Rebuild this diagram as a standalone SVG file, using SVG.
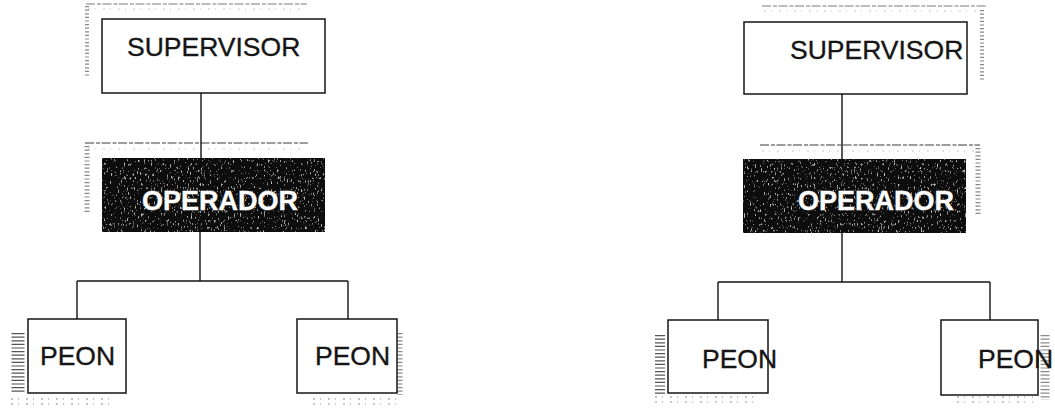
<svg xmlns="http://www.w3.org/2000/svg" width="1055" height="408" viewBox="0 0 1055 408">
  <style>
    .box { fill: #ffffff; stroke: #151515; stroke-width: 1.5; }
    .dark { fill: #111111; stroke: #0d0d0d; stroke-width: 1.5; filter: url(#grain); }
    .lbl { font-family: "Liberation Sans", Arial, sans-serif; font-size: 26.5px; fill: #151515; stroke: #151515; stroke-width: 0.35; }
    .lbl-w { font-family: "Liberation Sans", Arial, sans-serif; font-size: 27px; font-weight: bold; fill: #ffffff; stroke: #8a8a8a; stroke-width: 0.8; paint-order: stroke; }
    .wire { fill: none; stroke: #151515; stroke-width: 1.4; }
    .edge { fill: none; stroke: #7a7a7a; stroke-width: 1.2; stroke-dasharray: 9 2 4 1.5; }
    .edge2 { fill: none; stroke: #c4c4c4; stroke-width: 1; stroke-dasharray: 2 5 1 7; }
    .ticks { fill: none; stroke: #8a8a8a; stroke-dasharray: 1.2 2.4; }
  </style>
  <defs>
    <!-- speckled print texture for the dark boxes -->
    <filter id="grain" x="0" y="0" width="1" height="1">
      <feTurbulence type="fractalNoise" baseFrequency="0.7 0.3" numOctaves="2" seed="7" result="n"/>
      <feColorMatrix in="n" type="matrix" values="0 0 0 0 0.55  0 0 0 0 0.55  0 0 0 0 0.55  6 0 0 0 -3.8" result="dots"/>
      <feComposite in="dots" in2="SourceGraphic" operator="in" result="specks"/>
      <feMerge>
        <feMergeNode in="SourceGraphic"/>
        <feMergeNode in="specks"/>
      </feMerge>
    </filter>
  </defs>

  <!-- offset print frames behind the boxes -->
  <g id="frames">
    <!-- left chart -->
    <line class="edge" x1="86" y1="4" x2="307" y2="4"/>
    <line class="edge2" x1="88" y1="9" x2="300" y2="9"/>
    <line class="ticks" x1="87" y1="6" x2="87" y2="76" stroke-width="4"/>
    <line class="edge" x1="85" y1="143" x2="308" y2="143" style="stroke:#3a3a3a"/>
    <line class="edge2" x1="88" y1="149" x2="300" y2="149"/>
    <line class="ticks" x1="87" y1="146" x2="87" y2="214" stroke-width="5"/>
    <line class="ticks" x1="18" y1="333" x2="18" y2="393" stroke-width="13" style="stroke:#555"/>
    <line class="edge2" x1="11" y1="399" x2="110" y2="399" style="stroke:#888"/>
    <line class="edge2" x1="11" y1="404" x2="110" y2="404" style="stroke:#888"/>
    <line class="ticks" x1="400" y1="333" x2="400" y2="395" stroke-width="5"/>
    <line class="edge2" x1="313" y1="399" x2="397" y2="399" style="stroke:#888"/>
    <line class="edge2" x1="313" y1="404" x2="397" y2="404" style="stroke:#999"/>
    <!-- right chart -->
    <line class="edge" x1="762" y1="6" x2="987" y2="6"/>
    <line class="edge2" x1="764" y1="11" x2="980" y2="11"/>
    <line class="ticks" x1="982" y1="10" x2="982" y2="80" stroke-width="4"/>
    <line class="edge" x1="760" y1="145" x2="980" y2="145" style="stroke:#3a3a3a"/>
    <line class="edge2" x1="762" y1="151" x2="975" y2="151"/>
    <line class="ticks" x1="978" y1="148" x2="978" y2="215" stroke-width="5"/>
    <line class="ticks" x1="660" y1="335" x2="660" y2="395" stroke-width="10" style="stroke:#555"/>
    <line class="edge2" x1="655" y1="397" x2="753" y2="397" style="stroke:#888"/>
    <line class="edge2" x1="655" y1="402" x2="753" y2="402" style="stroke:#999"/>
    <line class="ticks" x1="1045" y1="335" x2="1045" y2="400" stroke-width="9"/>
    <line class="edge2" x1="957" y1="397" x2="1033" y2="397" style="stroke:#888"/>
    <line class="edge2" x1="957" y1="402" x2="1033" y2="402" style="stroke:#999"/>
  </g>

  <g id="connectors">
    <path class="wire" d="M201 93 V158 M200 232 V281 M77 281 H348 M77 281 V319 M348 281 V319"/>
    <path class="wire" d="M842 94 V159 M842 233 V282 M718 282 H990 M718 282 V320 M990 282 V320"/>
  </g>

  <!-- left chart -->
  <g id="supervisor-1">
    <rect class="box" x="102" y="19" width="223" height="74"/>
    <text class="lbl" x="127" y="56">SUPERVISOR</text>
  </g>
  <g id="operador-1">
    <rect class="dark" x="102" y="158" width="223" height="74"/>
    <text class="lbl-w" x="142" y="210">OPERADOR</text>
  </g>
  <g id="peon-1a">
    <rect class="box" x="28" y="319" width="98" height="74"/>
    <text class="lbl" x="40" y="365">PEON</text>
  </g>
  <g id="peon-1b">
    <rect class="box" x="297" y="319" width="100" height="74"/>
    <text class="lbl" x="315" y="365">PEON</text>
  </g>

  <!-- right chart -->
  <g id="supervisor-2">
    <rect class="box" x="744" y="22" width="223" height="72"/>
    <text class="lbl" x="790" y="59">SUPERVISOR</text>
  </g>
  <g id="operador-2">
    <rect class="dark" x="743" y="159" width="223" height="74"/>
    <text class="lbl-w" x="798" y="210">OPERADOR</text>
  </g>
  <g id="peon-2a">
    <rect class="box" x="668" y="320" width="100" height="73"/>
    <text class="lbl" x="702" y="368">PEON</text>
  </g>
  <g id="peon-2b">
    <rect class="box" x="941" y="320" width="97" height="75"/>
    <text class="lbl" x="978" y="368">PEON</text>
  </g>
</svg>
